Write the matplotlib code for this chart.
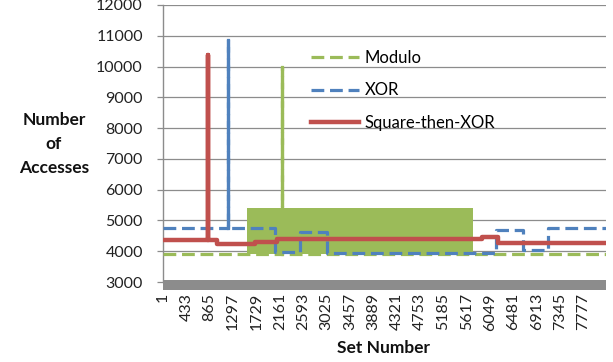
import numpy as np
import matplotlib
matplotlib.use("Agg")
import matplotlib.pyplot as plt
from matplotlib.patches import Rectangle
import matplotlib.transforms as mtransforms

plt.rcParams['font.family'] = ['Lato', 'DejaVu Sans']

# ---- data ----
total_sets = 8192
tick_sets = [1, 433, 865, 1297, 1729, 2161, 2593, 3025, 3457, 3889,
             4321, 4753, 5185, 5617, 6049, 6481, 6913, 7345, 7777]
tick_labels = [str(t) for t in tick_sets]

modulo_breaks = [1, 1560, 5730, 8192]
modulo_low = [3920, 3920, 3920]
modulo_high = [3920, 5400, 3920]
modulo_spike_set = 2200
modulo_spike_value = 10000

xor_breaks = [1, 2080, 2540, 3040, 6160, 6660, 7120, 8192]
xor_levels = [4750, 3980, 4620, 3930, 4680, 4050, 4750]
xor_spike_set = 1206
xor_spike_value = 10870

red_breaks = [1, 1000, 1700, 2100, 5900, 6200, 8192]
red_levels = [4380, 4230, 4300, 4390, 4450, 4270]
red_spike_set = 830
red_spike_value = 10380

GREEN = '#9BBB59'
BLUE = '#4F81BD'
RED = '#C0504D'
GRID = '#8C8C8C'


def step_path(breaks, levels, spike_set, spike_value):
    xs, ys = [], []
    for i, lv in enumerate(levels):
        a, b = breaks[i], breaks[i + 1]
        if a <= spike_set < b:
            xs += [a, spike_set, spike_set, spike_set + 1, spike_set + 1, b]
            ys += [lv, lv, spike_value, spike_value, lv, lv]
        else:
            xs += [a, b]
            ys += [lv, lv]
    return np.array(xs), np.array(ys)


fig = plt.figure(figsize=(6.13, 3.62), dpi=100)
ax = fig.add_axes([163 / 613, 1 - 282 / 362, (606 - 163) / 613, (282 - 5) / 362])

# Modulo: band of oscillation + baseline + spike
for i in range(len(modulo_low)):
    if modulo_high[i] > modulo_low[i]:
        ax.fill_between([modulo_breaks[i], modulo_breaks[i + 1]],
                        [modulo_low[i]] * 2, [modulo_high[i]] * 2,
                        color=GREEN, lw=0, zorder=2)
mx, my = step_path(modulo_breaks, modulo_low, modulo_spike_set, modulo_spike_value)
ax.plot(mx, my, color=GREEN, lw=2.3, dashes=(4, 1.8), zorder=3, label='Modulo')
ax.plot([modulo_spike_set, modulo_spike_set], [modulo_low[1], modulo_spike_value],
        color=GREEN, lw=2.3, zorder=3)

xx, xy = step_path(xor_breaks, xor_levels, xor_spike_set, xor_spike_value)
ax.plot(xx, xy, color=BLUE, lw=2.3, dashes=(4, 1.8), zorder=4, label='XOR')
ax.plot([xor_spike_set, xor_spike_set], [xor_levels[0], xor_spike_value],
        color=BLUE, lw=2.3, zorder=4)

rx, ry = step_path(red_breaks, red_levels, red_spike_set, red_spike_value)
ax.plot(rx, ry, color=RED, lw=3.2, zorder=5, label='Square-then-XOR')

ax.set_xlim(1, total_sets)
ax.set_ylim(3000, 12000)
ax.set_yticks(np.arange(3000, 12001, 1000))
ax.yaxis.grid(True, color=GRID, lw=0.9)
ax.set_axisbelow(True)

ax.set_xticks(tick_sets)
ax.set_xticklabels(tick_labels, rotation=90, fontsize=11.5, color='#222222')
ax.tick_params(axis='x', length=0, pad=8)
ax.tick_params(axis='y', length=4.5, width=0.9, color=GRID, pad=10,
               labelsize=11.5, labelcolor='#222222')

for s in ['top', 'right', 'bottom']:
    ax.spines[s].set_visible(False)
ax.spines['left'].set_color(GRID)
ax.spines['left'].set_linewidth(1.0)

# thick gray floor bar below the axis
trans = mtransforms.blended_transform_factory(ax.transAxes, ax.transAxes)
ax.add_patch(Rectangle((0, -7.5 / 277), 1, 9.5 / 277, transform=trans,
                       color='#8C8C8C', clip_on=False, zorder=6, lw=0))

fig.text(54 / 613, 1 - 144 / 362, 'Number\nof\nAccesses', ha='center', va='center',
         fontsize=12.5, fontweight='bold', linespacing=1.6, color='#111111')
fig.text(384 / 613, 1 - 348 / 362, 'Set Number', ha='center', va='center',
         fontsize=12.5, fontweight='bold', color='#111111')

leg = ax.legend(loc='upper left', bbox_to_anchor=((313 - 163) / 443 - 0.02, 1 - 38 / 277),
                frameon=False, fontsize=12, handlelength=2.9, handletextpad=0.35,
                labelspacing=1.0, borderaxespad=0)

fig.savefig('out.png', dpi=100)
